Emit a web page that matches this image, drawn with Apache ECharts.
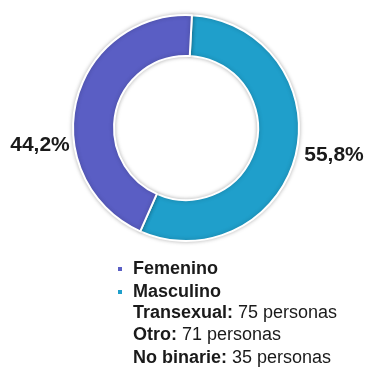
<!DOCTYPE html>
<html>
<head>
<meta charset="utf-8">
<style>
  html, body { margin: 0; padding: 0; background: #fff; }
  #chart { width: 370px; height: 372px; }
</style>
<script src="https://cdn.jsdelivr.net/npm/echarts@6/dist/echarts.min.js"></script>
</head>
<body>
<div id="chart"></div>
<script>
// Gender split (percent) shown in the ring
const categories = ['Masculino', 'Femenino'];
const shares = [55.8, 44.2];
const colors = ['#1f9fcb', '#5a5ec4'];

// Other identities, listed under the legend
const otherLabels = ['Transexual', 'Otro', 'No binarie'];
const otherCounts = [75, 71, 35];
const otherRowsY = [313, 335, 358];

const legendOrder = ['Femenino', 'Masculino'];

const fmt = v => v.toFixed(1).replace('.', ',') + '%';
const FONT = '"Liberation Sans", Arial, sans-serif';

const chart = echarts.init(document.getElementById('chart'));

// where each percentage sits beside the ring
const labelSpots = {
  Masculino: { x: 334, y: 155 },
  Femenino: { x: 40, y: 145 }
};

chart.setOption({
  animation: false,
  color: colors,
  legend: {
    data: legendOrder,
    orient: 'vertical',
    left: 116,
    top: 260,
    padding: 0,
    icon: 'rect',
    itemWidth: 6,
    itemHeight: 6,
    itemGap: 5,
    selectedMode: false,
    textStyle: {
      fontFamily: FONT,
      fontSize: 18,
      fontWeight: 'bold',
      color: '#1a1a1a',
      lineHeight: 18,
      padding: [0, 0, 0, 5]
    }
  },
  series: [{
    type: 'pie',
    center: [186, 128],
    radius: [72, 113],
    startAngle: 87,
    clockwise: true,
    data: categories.map((c, i) => ({ name: c, value: shares[i] })),
    itemStyle: {
      borderColor: '#ffffff',
      borderWidth: 2,
      shadowColor: 'rgba(0,0,0,0.25)',
      shadowBlur: 4
    },
    label: {
      show: true,
      position: 'inside',
      formatter: p => fmt(p.value),
      fontFamily: FONT,
      fontSize: 21,
      fontWeight: 'bold',
      color: '#1a1a1a',
      overflow: 'none'
    },
    labelLine: { show: false },
    labelLayout: p => {
      const s = labelSpots[categories[p.dataIndex]];
      return { x: s.x, y: s.y, align: 'center', verticalAlign: 'middle' };
    },
    emphasis: { disabled: true }
  }],
  graphic: otherLabels.map((name, i) => ({
    type: 'text',
    left: 133,
    top: otherRowsY[i] - 9,
    style: {
      text: '{k|' + name + ':}{v| ' + otherCounts[i] + ' personas}',
      rich: {
        k: { fontFamily: FONT, fontSize: 18, fontWeight: 'bold', fill: '#1a1a1a', lineHeight: 18 },
        v: { fontFamily: FONT, fontSize: 18, fill: '#1a1a1a', lineHeight: 18 }
      }
    }
  }))
});
</script>
</body>
</html>
